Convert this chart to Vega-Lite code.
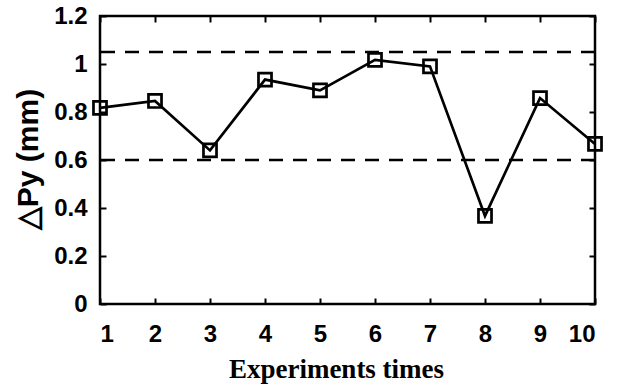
{
  "$schema": "https://vega.github.io/schema/vega-lite/v6.json",
  "width": 495,
  "height": 288,
  "autosize": {"type": "none"},
  "padding": {"left": 100, "top": 16, "right": 23, "bottom": 83},
  "background": "white",
  "config": {
    "view": {"stroke": "black", "strokeWidth": 2.5},
    "axis": {
      "domain": false,
      "grid": false,
      "tickColor": "black",
      "tickWidth": 2,
      "tickSize": -6,
      "labelFont": "Liberation Sans",
      "labelFontWeight": "bold",
      "labelFontSize": 24,
      "labelColor": "black",
      "labelOverlap": false,
      "titleColor": "black"
    }
  },
  "datasets": {
    "pts": [
      {"t": 1, "dpy": 0.817},
      {"t": 2, "dpy": 0.846},
      {"t": 3, "dpy": 0.64},
      {"t": 4, "dpy": 0.935},
      {"t": 5, "dpy": 0.89},
      {"t": 6, "dpy": 1.017},
      {"t": 7, "dpy": 0.99},
      {"t": 8, "dpy": 0.367},
      {"t": 9, "dpy": 0.858},
      {"t": 10, "dpy": 0.667}
    ],
    "lim": [{"v": 1.05}, {"v": 0.6}]
  },
  "layer": [
    {
      "data": {"name": "lim"},
      "mark": {"type": "rule", "color": "black", "strokeWidth": 2.5, "strokeDash": [14, 10]},
      "encoding": {
        "y": {"field": "v", "type": "quantitative", "scale": {"domain": [0, 1.2], "nice": false}, "axis": {"orient": "right", "labels": false, "title": null, "values": [0, 0.2, 0.4, 0.6, 0.8, 1, 1.2]}}
      }
    },
    {
      "data": {"name": "pts"},
      "mark": {"type": "line", "color": "black", "strokeWidth": 2.7},
      "encoding": {
        "x": {"field": "t", "type": "quantitative", "scale": {"domain": [1, 10], "nice": false}, "axis": {"orient": "top", "labels": false, "title": null, "values": [1,2,3,4,5,6,7,8,9,10]}},
        "y": {"field": "dpy", "type": "quantitative", "axis": null}
      }
    },
    {
      "data": {"name": "pts"},
      "mark": {"type": "point", "shape": "square", "filled": false, "color": "black", "strokeWidth": 2.7, "size": 170, "opacity": 1},
      "encoding": {
        "x": {"field": "t", "type": "quantitative", "axis": {"orient": "bottom", "values": [1,2,3,4,5,6,7,8,9,10], "format": "d", "labelPadding": 24, "title": "Experiments times", "titleFont": "Liberation Serif", "titleFontWeight": "bold", "titleFontSize": 27, "titlePadding": 10, "titleX": 236}},
        "y": {"field": "dpy", "type": "quantitative", "axis": {"orient": "left", "values": [0, 0.2, 0.4, 0.6, 0.8, 1, 1.2], "format": "~g", "labelPadding": 19, "title": "△Py (mm)", "titleFont": "Liberation Sans", "titleFontWeight": "bold", "titleFontSize": 30, "titlePadding": 10, "titleY": 143}}
      }
    }
  ],
  "resolve": {"axis": {"x": "independent", "y": "independent"}}
}
